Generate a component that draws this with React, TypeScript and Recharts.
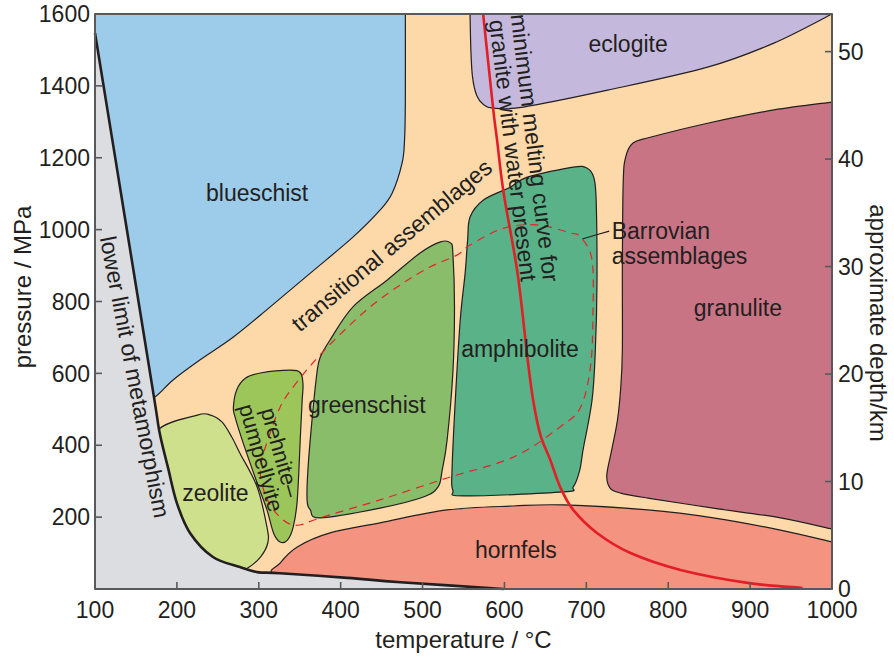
import React from 'react';
import { ScatterChart, Scatter, XAxis, YAxis } from 'recharts';

// metamorphic facies diagram: temperature (°C) vs pressure (MPa), depth on the right

type Pt = [number, number];

const TEMP_TICKS = [100, 200, 300, 400, 500, 600, 700, 800, 900, 1000];
const PRESSURE_TICKS = [200, 400, 600, 800, 1000, 1200, 1400, 1600];
const DEPTH_TICKS = [0, 10, 20, 30, 40, 50];
const DEPTH_MAX = 53.5; // km at 1600 MPa

// region outlines as [temperature, pressure]; a repeated point is a sharp corner
const plotBox: Pt[] = [
  [100, 0], [100, 0], [100, 1600], [100, 1600], [1000, 1600], [1000, 1600], [1000, 0], [1000, 0],
];

const blueschist: Pt[] = [
  [100, 1600], [100, 1600], [479, 1600], [479, 1600],
  [479, 1360], [478, 1249], [475, 1185], [463, 1102], [448, 1054], [415, 979], [363, 879],
  [314, 785], [269, 701], [228, 637], [195, 581], [173, 534], [150, 515], [100, 700], [100, 700],
];

const eclogite: Pt[] = [
  [558, 1600], [558, 1600], [559, 1500], [561, 1425], [566, 1374], [574, 1349], [586, 1338],
  [623, 1341], [726, 1388], [848, 1452], [929, 1519], [1000, 1600], [1000, 1600],
];

const granulite: Pt[] = [
  [1000, 1355], [1000, 1355], [929, 1333], [848, 1296], [778, 1257], [757, 1241], [748, 1202],
  [745, 1130], [744, 896], [744, 665], [742, 560], [738, 470], [731, 387], [725, 317], [729, 281],
  [742, 267], [775, 253], [855, 225], [937, 198], [1000, 167], [1000, 167],
];

const hornfels: Pt[] = [
  [326, 72], [347, 117], [387, 156], [448, 184], [530, 220], [611, 231], [672, 234], [775, 220],
  [855, 198], [937, 164], [1000, 131], [1000, 131], [1000, 0], [1000, 0], [400, 0], [400, 0], [320, 40],
];

const zeolite: Pt[] = [
  [225, 484], [241, 484], [255, 465], [267, 423], [277, 378], [298, 284], [310, 172], [311, 128],
  [302, 89], [286, 58], [265, 40], [210, 130], [172, 330], [176, 440],
];

const prehnite: Pt[] = [
  [269, 506], [273, 554], [284, 587], [302, 601], [338, 609], [351, 601], [354, 568], [353, 526],
  [351, 434], [347, 248], [342, 172], [335, 136], [326, 131], [318, 156], [310, 220], [298, 295],
  [281, 406], [271, 479],
];

const greenschist: Pt[] = [
  [371, 601], [375, 645], [387, 693], [415, 785], [457, 860], [497, 935], [522, 966], [534, 963],
  [537, 935], [539, 785], [537, 601], [530, 415], [524, 331], [519, 284], [501, 256], [448, 225],
  [375, 198], [363, 220], [359, 248], [360, 331], [365, 470],
];

const amphibolite: Pt[] = [
  [555, 970], [558, 1035], [574, 1082], [607, 1118], [628, 1146], [684, 1174], [701, 1171],
  [709, 1146], [712, 1082], [713, 851], [711, 665], [707, 526], [696, 387], [692, 331], [684, 284],
  [672, 270], [550, 259], [537, 275], [536, 331], [540, 526], [546, 748], [552, 879],
];

const lowerLimit: Pt[] = [
  [100, 1547], [137, 1027], [172, 534], [179, 434], [189, 339], [200, 239], [216, 156], [244, 89],
  [277, 61], [298, 47], [326, 44], [408, 31], [473, 19], [599, 0],
];

const belowLimit: Pt[] = [[100, 1547], ...lowerLimit, [599, 0], [100, 0], [100, 0], [100, 1547]];

const meltingCurve: Pt[] = [
  [574, 1600], [586, 1341], [591, 1249], [599, 1102], [616, 879], [628, 645], [635, 526], [644, 428],
  [656, 359], [668, 284], [684, 220], [713, 156], [754, 100], [815, 53], [897, 17], [964, 3],
];

const barrovianPath: Pt[] = [
  [342, 562], [366, 629], [396, 701], [436, 785], [476, 851], [509, 896], [542, 929], [558, 957],
  [599, 1004], [640, 1013], [680, 991], [693, 979], [707, 915], [708, 757], [705, 618], [693, 506],
  [668, 451], [611, 367], [530, 309], [448, 248], [375, 198], [350, 178], [335, 184], [318, 220],
  [306, 275], [302, 339], [311, 415], [326, 506],
];

const barrovianLeader: Pt[] = [[695, 974], [728, 996]];

const labels = [
  { text: 'blueschist', t: 298, p: 1102 },
  { text: 'eclogite', t: 751, p: 1517 },
  { text: 'granulite', t: 885, p: 782 },
  { text: 'hornfels', t: 614, p: 109 },
  { text: 'zeolite', t: 247, p: 267 },
  { text: 'greenschist', t: 432, p: 512 },
  { text: 'amphibolite', t: 619, p: 668 },
  { text: 'prehnite–\npumpellyite', t: 315, p: 373 },
  { text: 'transitional assemblages', t: 462, p: 957 },
  { text: 'lower limit of metamorphism', t: 149, p: 590 },
  { text: 'minimum melting curve for\ngranite with water present', t: 624, p: 1224 },
  { text: 'Barrovian\nassemblages', t: 731, p: 961 },
];

const labelLook: Record<string, { angle: number; size: number; lh: number; anchor?: string }> = {
  'prehnite–\npumpellyite': { angle: 74, size: 22, lh: 20 },
  'transitional assemblages': { angle: -40, size: 23, lh: 0 },
  'lower limit of metamorphism': { angle: 79, size: 23, lh: 0 },
  'minimum melting curve for\ngranite with water present': { angle: 83, size: 23, lh: 22 },
  'Barrovian\nassemblages': { angle: 0, size: 23, lh: 25, anchor: 'start' },
};

const FONT = '"Liberation Sans", Arial, Helvetica, sans-serif';
const INK = '#231f20';
const AXIS = '#58595b';
const TICK_LEN = 7;

const rows = (pts: Pt[]) => pts.map(([t, p]) => ({ t, p }));

// tick anchors on the frame (right-hand depth ticks converted to pressure)
const tickAnchors = [
  ...TEMP_TICKS.map((t) => ({ tick: 'bottom', t, p: 0 })),
  ...PRESSURE_TICKS.map((p) => ({ tick: 'left', t: 100, p })),
  ...DEPTH_TICKS.map((d) => ({ tick: 'right', t: 1000, p: (d * 1600) / DEPTH_MAX })),
];

const annotations = [...labels, ...tickAnchors];

// catmull-rom through the scaled points; duplicated points give straight edges / corners
function pathFrom(points: { x: number; y: number }[], closed: boolean): string {
  const n = points ? points.length : 0;
  if (n < 2) return '';
  const get = (i: number) => (closed ? points[(i + n) % n] : points[Math.max(0, Math.min(n - 1, i))]);
  let d = `M${points[0].x},${points[0].y}`;
  const segs = closed ? n : n - 1;
  for (let i = 0; i < segs; i++) {
    const p0 = get(i - 1);
    const p1 = get(i);
    const p2 = get(i + 1);
    const p3 = get(i + 2);
    if (p1.x === p2.x && p1.y === p2.y) continue;
    const c1x = p1.x + (p2.x - p0.x) / 6;
    const c1y = p1.y + (p2.y - p0.y) / 6;
    const c2x = p2.x - (p3.x - p1.x) / 6;
    const c2y = p2.y - (p3.y - p1.y) / 6;
    d += `C${c1x},${c1y} ${c2x},${c2y} ${p2.x},${p2.y}`;
  }
  return closed ? d + 'Z' : d;
}

const outline =
  (fill: string, stroke: string, width: number, closed = true, dash?: string) =>
  (props: any) => (
    <path
      d={pathFrom(props.points, closed)}
      fill={fill}
      stroke={stroke}
      strokeWidth={width}
      strokeDasharray={dash}
      strokeLinejoin="round"
      strokeLinecap="butt"
    />
  );

const noDot = () => <g />;

const TICK_DIR: Record<string, [number, number]> = { bottom: [0, -1], left: [1, 0], right: [-1, 0] };

const annotationShape = (props: any) => {
  const { cx, cy, payload } = props;
  if (payload.tick) {
    const [dx, dy] = TICK_DIR[payload.tick];
    return (
      <line
        x1={cx}
        y1={cy}
        x2={cx + dx * TICK_LEN}
        y2={cy + dy * TICK_LEN}
        stroke={AXIS}
        strokeWidth={1.6}
      />
    );
  }
  const look = labelLook[payload.text] || { angle: 0, size: 23, lh: 0 };
  const lines: string[] = payload.text.split('\n');
  const first = -((lines.length - 1) / 2) * look.lh + 0.36 * look.size;
  return (
    <text
      x={cx}
      y={cy}
      transform={`rotate(${look.angle} ${cx} ${cy})`}
      textAnchor={look.anchor || 'middle'}
      fontSize={look.size}
      fontFamily={FONT}
      fill={INK}
    >
      {lines.map((l, i) => (
        <tspan key={i} x={cx} dy={i === 0 ? first : look.lh}>
          {l}
        </tspan>
      ))}
    </text>
  );
};

const areas = [
  { name: 'background', pts: plotBox, fill: '#fdd9a9', stroke: 'none', w: 0 },
  { name: 'blueschist', pts: blueschist, fill: '#9dcbea', stroke: INK, w: 1.2 },
  { name: 'eclogite', pts: eclogite, fill: '#c4b9dc', stroke: INK, w: 1.2 },
  { name: 'granulite', pts: granulite, fill: '#c87485', stroke: INK, w: 1.2 },
  { name: 'hornfels', pts: hornfels, fill: '#f4937f', stroke: INK, w: 1.2 },
  { name: 'zeolite', pts: zeolite, fill: '#cfe08c', stroke: INK, w: 1.2 },
  { name: 'prehnite', pts: prehnite, fill: '#9cc65a', stroke: INK, w: 1.2 },
  { name: 'greenschist', pts: greenschist, fill: '#8abd6a', stroke: INK, w: 1.2 },
  { name: 'amphibolite', pts: amphibolite, fill: '#5ab288', stroke: INK, w: 1.2 },
  { name: 'below', pts: belowLimit, fill: '#dcdde0', stroke: 'none', w: 0 },
];

const tickStyle = { fontSize: 23, fontFamily: FONT, fill: INK };

export default function App() {
  return (
    <div style={{ position: 'absolute', left: 0, top: 0, background: '#fff' }}>
      <ScatterChart width={894} height={657} margin={{ top: 14, right: 0, bottom: 0, left: 0 }}>
        {areas.map((a) => (
          <Scatter
            key={a.name}
            data={rows(a.pts)}
            shape={noDot}
            line={outline(a.fill, a.stroke, a.w)}
            legendType="none"
            isAnimationActive={false}
          />
        ))}
        <Scatter
          data={rows(barrovianPath)}
          shape={noDot}
          line={outline('none', '#e3242b', 1.2, true, '8 6')}
          isAnimationActive={false}
        />
        <Scatter
          data={rows(lowerLimit)}
          shape={noDot}
          line={outline('none', INK, 2.6, false)}
          isAnimationActive={false}
        />
        <Scatter
          data={rows(meltingCurve)}
          shape={noDot}
          line={outline('none', '#e31e26', 2.6, false)}
          isAnimationActive={false}
        />
        <Scatter
          data={rows(barrovianLeader)}
          shape={noDot}
          line={outline('none', INK, 1.2, false)}
          isAnimationActive={false}
        />
        <Scatter
          data={rows(plotBox)}
          shape={noDot}
          line={outline('none', AXIS, 2)}
          isAnimationActive={false}
        />
        <Scatter data={annotations} shape={annotationShape} isAnimationActive={false} />
        <XAxis
          type="number"
          dataKey="t"
          domain={[100, 1000]}
          ticks={TEMP_TICKS}
          height={68}
          tickSize={-7}
          tickMargin={20}
          stroke={AXIS}
          axisLine={{ stroke: AXIS, strokeWidth: 2 }}
          tickLine={{ stroke: AXIS, strokeWidth: 1.5 }}
          tick={tickStyle}
          interval={0}
          label={{
            content: (p: any) => {
              const vb = p.viewBox || { x: 95, y: 589, width: 737, height: 68 };
              return (
                <text x={vb.x + vb.width / 2} y={648} textAnchor="middle" fontSize={24} fontFamily={FONT} fill={INK}>
                  temperature / °C
                </text>
              );
            },
          }}
        />
        <YAxis
          type="number"
          dataKey="p"
          domain={[0, 1600]}
          ticks={PRESSURE_TICKS}
          width={95}
          tickSize={-7}
          tickMargin={12}
          axisLine={{ stroke: AXIS, strokeWidth: 2 }}
          tickLine={{ stroke: AXIS, strokeWidth: 1.5 }}
          tick={tickStyle}
          interval={0}
          label={{
            content: () => (
              <text
                x={22}
                y={287}
                transform="rotate(-90 22 287)"
                textAnchor="middle"
                dominantBaseline="central"
                fontSize={24}
                fontFamily={FONT}
                fill={INK}
              >
                pressure / MPa
              </text>
            ),
          }}
        />
        <YAxis
          yAxisId="depth"
          orientation="right"
          type="number"
          domain={[0, DEPTH_MAX]}
          allowDataOverflow
          ticks={DEPTH_TICKS}
          width={62}
          tickSize={-7}
          tickMargin={13}
          axisLine={{ stroke: AXIS, strokeWidth: 2 }}
          tickLine={{ stroke: AXIS, strokeWidth: 1.5 }}
          tick={tickStyle}
          interval={0}
          label={{
            content: () => (
              <text
                x={878}
                y={323}
                transform="rotate(90 878 323)"
                textAnchor="middle"
                dominantBaseline="central"
                fontSize={24}
                fontFamily={FONT}
                fill={INK}
              >
                approximate depth/km
              </text>
            ),
          }}
        />
      </ScatterChart>
    </div>
  );
}
